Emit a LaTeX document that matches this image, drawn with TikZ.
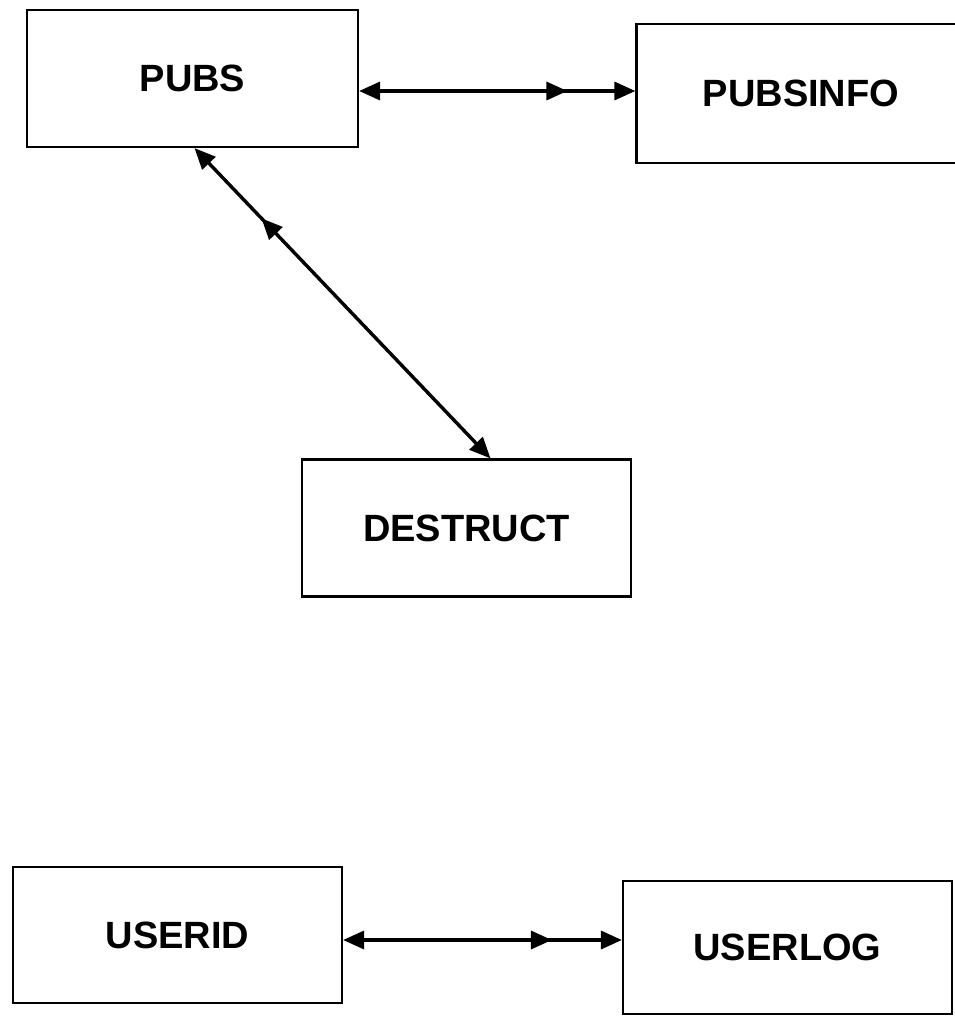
\documentclass[tikz,border=0pt]{standalone}
\usepackage{fontspec}
\setmainfont{Liberation Sans}
\usetikzlibrary{arrows.meta,decorations.markings}
\tikzset{tb/.style={draw,rectangle,line width=2.2pt,minimum width=329pt,minimum height=137pt,font=\fontsize{38}{42}\selectfont\bfseries}}
\tikzset{ln/.style={line width=3.4pt,{Triangle[length=21pt,width=18pt]}-{Triangle[length=21pt,width=18pt]}}}
\tikzset{mm/.style={postaction=decorate,decoration={markings,mark=at position #1 with {\arrow{Triangle[length=21pt,width=18pt]}}}}}

\begin{document}
\begin{tikzpicture}[x=1pt,y=-1pt]
\useasboundingbox (0,0) rectangle (955,1018);
\node[tb,minimum width=331pt] (pubs) at (192.5,78.5) {PUBS};
\node[tb,minimum height=139pt] (pubsinfo) at (801,93.5) {PUBSINFO};
\node[tb] (destruct) at (466.5,528) {DESTRUCT};
\node[tb,minimum height=136pt] (userid) at (177.5,935) {USERID};
\node[tb,minimum height=133pt] (userlog) at (787.5,947.5) {USERLOG};

\draw[ln,mm=-68pt] (pubs.east |- 0,91) -- (pubsinfo.west |- 0,91);
\draw[ln,mm=-97pt] ([xshift=24pt]destruct.north) -- ([xshift=2pt]pubs.south);
\draw[ln,mm=-70pt] (userid.east |- 0,940) -- (userlog.west |- 0,940);
\end{tikzpicture}
\end{document}
